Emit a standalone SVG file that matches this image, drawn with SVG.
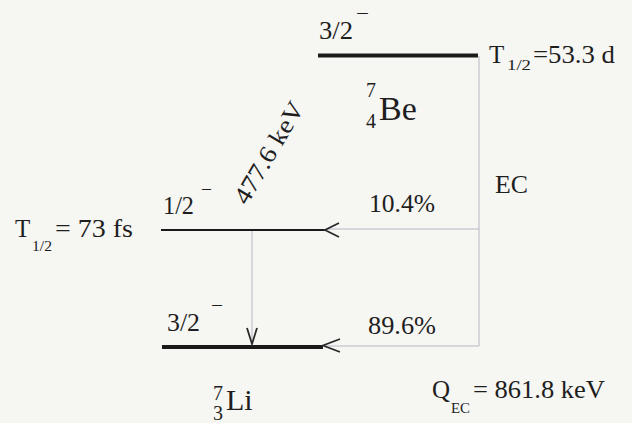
<svg xmlns="http://www.w3.org/2000/svg" width="632" height="423" viewBox="0 0 632 423" font-family="'Liberation Serif', 'Times New Roman', serif">
<style>
text{font-family:"Liberation Serif","Times New Roman",serif;fill:#1e1e1e}
.t{font-size:25px}
.m{font-size:20px}
.s{font-size:15px}
.lvl{stroke:#1a1a1a;fill:none}
.thin{stroke:#b4b8c4;stroke-width:1;fill:none}
.ah{stroke:#2a2a2a;stroke-width:1.8;fill:none;stroke-linejoin:miter}
</style>
<rect width="632" height="423" fill="#f6f6f3"/>
<g id="be-ground">
<line class="lvl" x1="318" y1="55.5" x2="478" y2="55.5" stroke-width="4"/>
<text class="t" x="319" y="39" textLength="34" lengthAdjust="spacingAndGlyphs">3/2</text>
<text class="m" x="356" y="20" textLength="13" lengthAdjust="spacingAndGlyphs">−</text>
<text class="t" x="489" y="63">T</text>
<text class="s" x="507" y="70" textLength="24" lengthAdjust="spacingAndGlyphs">1/2</text>
<text class="t" x="533" y="63" textLength="82" lengthAdjust="spacingAndGlyphs">=53.3 d</text>
<text class="m" x="366" y="97">7</text>
<text class="m" x="366" y="128">4</text>
<text style="font-size:34px" x="379" y="120">Be</text>
</g>
<g id="li-excited">
<line class="lvl" x1="161" y1="230" x2="325" y2="230" stroke-width="2.2"/>
<text class="t" x="163" y="214" textLength="31" lengthAdjust="spacingAndGlyphs">1/2</text>
<text class="m" x="201" y="196" textLength="11" lengthAdjust="spacingAndGlyphs">−</text>
<text class="t" x="15" y="237">T</text>
<text class="s" x="32" y="251" textLength="20" lengthAdjust="spacingAndGlyphs">1/2</text>
<text class="t" x="55" y="237" textLength="78" lengthAdjust="spacingAndGlyphs">= 73 fs</text>
</g>
<g id="li-ground">
<line class="lvl" x1="162" y1="347" x2="323" y2="347" stroke-width="4"/>
<text class="t" x="167" y="331" textLength="33" lengthAdjust="spacingAndGlyphs">3/2</text>
<text class="m" x="211" y="312" textLength="12" lengthAdjust="spacingAndGlyphs">−</text>
<text class="m" x="213" y="400">7</text>
<text class="m" x="213" y="420">3</text>
<text style="font-size:30px" x="226" y="410">Li</text>
<text class="t" x="432" y="398">Q</text>
<text class="s" x="451" y="413" textLength="19" lengthAdjust="spacingAndGlyphs">EC</text>
<text class="t" x="473" y="398" textLength="132" lengthAdjust="spacingAndGlyphs">= 861.8 keV</text>
</g>
<g id="connectors">
<polyline class="thin" points="479,56 479,346 324,346"/>
<line class="thin" x1="479" y1="229" x2="326" y2="229"/>
<line class="thin" x1="252" y1="231" x2="252" y2="343"/>
<polyline class="ah" points="339,223 325,230 339,237"/>
<polyline class="ah" points="340,339 323,345.5 340,352"/>
<polyline class="ah" points="247,328 252,344 257,328"/>
<text class="t" x="495" y="193" textLength="33" lengthAdjust="spacingAndGlyphs">EC</text>
<text class="t" x="369" y="212" textLength="66" lengthAdjust="spacingAndGlyphs">10.4%</text>
<text class="t" x="368" y="334" textLength="68" lengthAdjust="spacingAndGlyphs">89.6%</text>
<text class="t" transform="translate(247,206) rotate(-59.5)" textLength="114" lengthAdjust="spacingAndGlyphs">477.6 keV</text>
</g>
</svg>
